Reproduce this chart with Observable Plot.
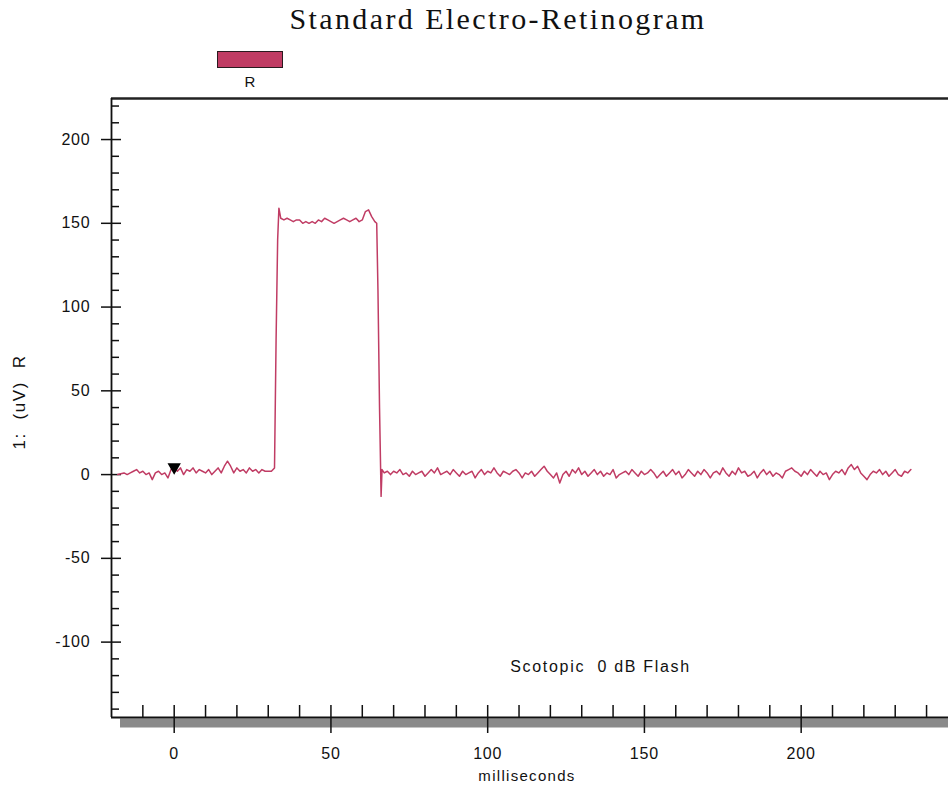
<!DOCTYPE html>
<html>
<head>
<meta charset="utf-8">
<script src="https://cdn.jsdelivr.net/npm/d3@7"></script>
<script src="https://cdn.jsdelivr.net/npm/@observablehq/plot@0.6"></script>
<style>
  html, body { margin: 0; padding: 0; background: #fff; }
  #wrap { position: relative; width: 948px; height: 787px; overflow: hidden; }
  #wrap svg { position: absolute; left: 0; top: 0; }
  .ov { position: absolute; white-space: nowrap; color: #111; }
  #title { left: 0; width: 996px; top: 2px; text-align: center; font-family: "Liberation Serif", serif; font-size: 30px; letter-spacing: 2.4px; }
  #legrect { left: 217px; top: 51px; width: 64px; height: 15px; background: #c03c64; border: 1.5px solid #2a1a1f; }
  #legtext { left: 240px; width: 20px; top: 73px; text-align: center; font-family: "Liberation Sans", sans-serif; font-size: 15px; }
  #xlabel { left: 427px; width: 200px; top: 767px; text-align: center; font-family: "Liberation Sans", sans-serif; font-size: 15px; letter-spacing: 1.3px; }
  #ylabel { left: 20px; top: 402px; transform: translate(-50%, -50%) rotate(-90deg); font-family: "Liberation Sans", sans-serif; font-size: 17px; letter-spacing: 1.6px; }
</style>
</head>
<body>
<div id="wrap">
  <div class="ov" id="title">Standard Electro-Retinogram</div>
  <div class="ov" id="legrect"></div>
  <div class="ov" id="legtext">R</div>
  <div class="ov" id="xlabel">milliseconds</div>
  <div class="ov" id="ylabel">1:&nbsp; (uV)&nbsp; R</div>
</div>
<script>
// ---- data ----
const xDomain = [-20, 247];
const yDomain = [-145, 224.5];
const xMajorTicks = [0, 50, 100, 150, 200];
const xMinorTicks = [-10, 10, 20, 30, 40, 60, 70, 80, 90, 110, 120, 130, 140, 160, 170, 180, 190, 210, 220, 230, 240];
const yMajorTicks = [-100, -50, 0, 50, 100, 150, 200];
const yMinorTicks = [-140, -130, -120, -110, -90, -80, -70, -60, -40, -30, -20, -10, 10, 20, 30, 40, 60, 70, 80, 90, 110, 120, 130, 140, 160, 170, 180, 190, 210, 220];

// baseline before the flash, one sample per ms starting at -18 ms
const preStart = -18;
const preValues = [0, 0.5, 1, 0, 1, 2, 3, 1, 2, 0, 1, -3, 1, 2, 0, 1, -2, 3, 5, 2,
                   4, 0, 3, 2, 4, 1, 3, 2, 1, 3, 0, 2, 4, 1, 5, 8, 5, 1, 4, 2,
                   3, 1, 4, 2, 3, 1, 3, 2, 2, 2];
// rising edge
const riseTimes = [32, 32.5, 33, 33.4];
const riseValues = [4, 80, 140, 159];
// plateau, one sample per ms starting at 34 ms
const plateauStart = 34;
const plateauValues = [153, 152, 153, 152, 151, 152, 152, 150, 151, 150, 151, 150, 152, 151, 153, 152,
                       151, 150, 151, 152, 153, 152, 151, 152, 153, 151, 152, 157, 158, 154, 151];
// falling edge
const fallTimes = [64.6, 65, 65.5, 66, 66.3];
const fallValues = [150, 110, 40, -13, 3];
// baseline after the flash response, one sample per ms starting at 67 ms
const postStart = 67;
const postValues = [1, 2, 0, 2, 1, 3, 0, 1, -1, 2,
                    0, 1, 2, -1, 1, 3, 1, 4, 0, 1,
                    2, 0, 3, 1, -1, 2, 0, 1, 2, -2,
                    1, 3, 0, 2, 1, 4, 1, -1, 2, 1,
                    0, 2, 3, 1, -2, 1, 0, 2, -1, 1,
                    3, 5, 2, 0, -2, 1, -5, 0, 2, -1,
                    3, 1, 4, 0, 2, -1, 1, 3, 0, 2,
                    -1, 1, 0, 3, -2, 0, 1, 2, 0, 3,
                    1, -1, 2, 0, 1, 3, 1, -2, 0, 2,
                    -1, 1, 3, 0, 2, -2, 0, 3, 1, -1,
                    2, 0, 3, 1, -2, 1, 2, 0, 4, 1,
                    -1, 2, 0, 4, 1, 2, -1, 0, 2, -2,
                    1, 3, 0, 2, -1, 1, 0, -2, 2, 3,
                    4, 2, 1, -1, 2, 0, 3, 1, -1, 2,
                    0, 1, -3, 0, 2, 1, 3, 0, 4, 6,
                    3, 5, 1, -1, -3, 0, 2, 1, 3, 0,
                    2, -1, 1, 3, 0, -1, 2, 1, 3];
// stimulus marker
const markerTimes = [0];
const markerValues = [4.5];
// annotation
const noteText = ["Scotopic  0 dB Flash"];
const noteX = [136];
const noteY = [-115];

const traceColor = "#c03c64";

// ---- build table ----
const trace = [];
preValues.forEach((v, i) => trace.push({t: preStart + i, v}));
riseTimes.forEach((t, i) => trace.push({t, v: riseValues[i]}));
plateauValues.forEach((v, i) => trace.push({t: plateauStart + i, v}));
fallTimes.forEach((t, i) => trace.push({t, v: fallValues[i]}));
postValues.forEach((v, i) => trace.push({t: postStart + i, v}));
const markers = markerTimes.map((t, i) => ({t, v: markerValues[i]}));
const notes = noteText.map((s, i) => ({s, x: noteX[i], y: noteY[i]}));

const fmt = d => String(d);

const chart = Plot.plot({
  width: 948,
  height: 787,
  marginLeft: 111,
  marginRight: 0,
  marginTop: 98,
  marginBottom: 70,
  style: {fontFamily: "Liberation Sans, sans-serif", fontSize: "16px", color: "#111", background: "transparent"},
  x: {domain: xDomain, label: null},
  y: {domain: yDomain, label: null},
  marks: [
    // shadow under bottom axis
    Plot.ruleY([yDomain[0]], {stroke: "#8a8a8a", strokeWidth: 9, dy: 5.5, insetLeft: 9}),
    // frame lines
    Plot.ruleY([yDomain[1]], {stroke: "#222", strokeWidth: 2.5}),
    Plot.ruleY([yDomain[0]], {stroke: "#111", strokeWidth: 1.8}),
    Plot.ruleX([xDomain[0]], {stroke: "#111", strokeWidth: 1.8}),
    // y axis
    Plot.axisY(yMajorTicks, {anchor: "left", tickSize: 10, tickPadding: 11, tickFormat: fmt, stroke: "#111", strokeWidth: 1.5, fontSize: 16, label: null}),
    Plot.axisY(yMajorTicks, {anchor: "left", tickSize: -10, tickFormat: () => "", stroke: "#111", strokeWidth: 1.5, label: null}),
    Plot.axisY(yMinorTicks, {anchor: "left", tickSize: -8, tickFormat: () => "", stroke: "#111", strokeWidth: 1.5, label: null}),
    // x axis
    Plot.axisX(xMajorTicks, {anchor: "bottom", tickSize: 16, tickPadding: 14, tickFormat: fmt, stroke: "#111", strokeWidth: 1.5, fontSize: 16, label: null}),
    Plot.axisX(xMajorTicks, {anchor: "bottom", tickSize: -12, tickFormat: () => "", stroke: "#111", strokeWidth: 1.5, label: null}),
    Plot.axisX(xMinorTicks, {anchor: "bottom", tickSize: -12, tickFormat: () => "", stroke: "#111", strokeWidth: 1.5, label: null}),
    // trace
    Plot.line(trace, {x: "t", y: "v", stroke: traceColor, strokeWidth: 1.5}),
    // stimulus marker
    Plot.dot(markers, {x: "t", y: "v", symbol: "triangle", rotate: 180, r: 4, fill: "#000", stroke: "#000"}),
    // annotation
    Plot.text(notes, {x: "x", y: "y", text: "s", fontSize: 16, fill: "#111"})
  ]
});
// widen text spacing to match the reference's bitmap font
d3.select(chart).selectAll("text").each(function() {
  const s = this.textContent;
  if (noteText.includes(s)) d3.select(this).attr("letter-spacing", "1.7px");
  else if (/^-?\d+$/.test(s)) d3.select(this).attr("letter-spacing", "0.8px");
});
document.getElementById("wrap").prepend(chart);
</script>
</body>
</html>
